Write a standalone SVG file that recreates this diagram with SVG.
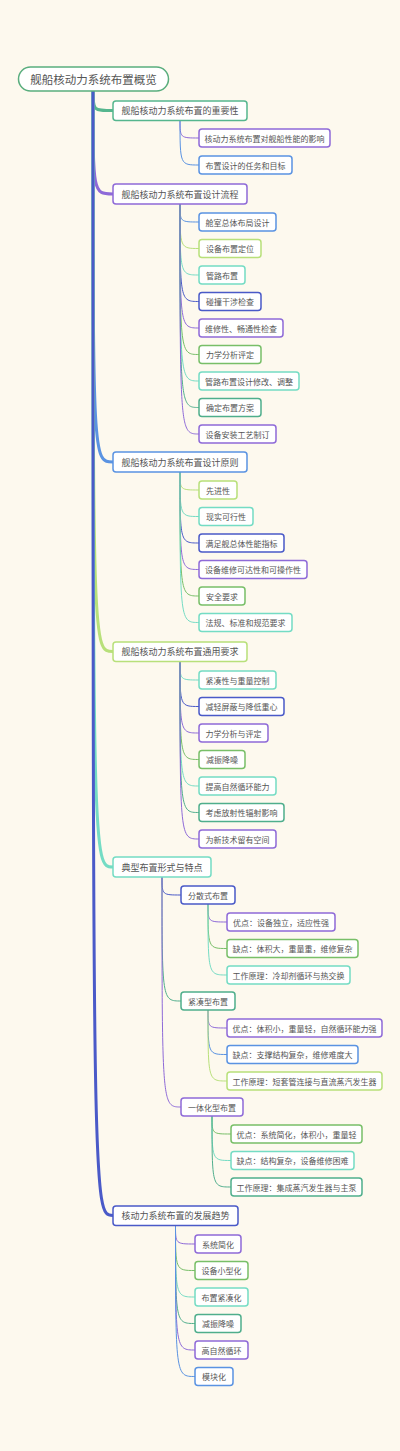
<svg xmlns="http://www.w3.org/2000/svg" width="400" height="1451" viewBox="0 0 400 1451">
<style>
text{font-family:"Noto Sans CJK SC","Noto Sans",sans-serif;fill:#555;dominant-baseline:central;text-anchor:middle}
.box{fill:#fff;stroke-width:1.5}
.t0{font-size:11.5px}
.t1{font-size:9px}
.t2{font-size:8px}
.main{fill:none;stroke-width:3}
.sub{fill:none;stroke-width:1}
.pu{stroke:#8e6ad8}.bl{stroke:#5a93e2}.yg{stroke:#b8e07a}.lt{stroke:#74dcc4}.in{stroke:#4a5ac8}.gr{stroke:#78bf68}.td{stroke:#4fae8c}.tg{stroke:#55b68e}.rt{stroke:#5aae7e}
</style>
<rect width="400" height="1451" fill="#fdf9ee"/>
<g id="connectors">
<path class="main tg" d="M93,91 C93,110.5 93,110.5 113,110.5"/>
<path class="main pu" d="M93,91 C93,194 93,194 113,194"/>
<path class="main bl" d="M93,91 C93,462 93,462 113,462"/>
<path class="main yg" d="M93,91 C93,651.5 93,651.5 113,651.5"/>
<path class="main lt" d="M93,91 C93,867 93,867 113,867"/>
<path class="main in" d="M93,91 C93,1215.5 93,1215.5 113,1215.5"/>
<path class="sub pu" d="M180,120 C180,138 180,138 199,138"/>
<path class="sub bl" d="M180,120 C180,165 180,165 199,165"/>
<path class="sub bl" d="M180,204 C180,222 180,222 199,222"/>
<path class="sub yg" d="M180,204 C180,248.5 180,248.5 199,248.5"/>
<path class="sub lt" d="M180,204 C180,275 180,275 199,275"/>
<path class="sub in" d="M180,204 C180,301.5 180,301.5 199,301.5"/>
<path class="sub pu" d="M180,204 C180,328 180,328 199,328"/>
<path class="sub gr" d="M180,204 C180,354.5 180,354.5 199,354.5"/>
<path class="sub lt" d="M180,204 C180,381 180,381 199,381"/>
<path class="sub td" d="M180,204 C180,407.5 180,407.5 199,407.5"/>
<path class="sub pu" d="M180,204 C180,434 180,434 199,434"/>
<path class="sub yg" d="M180,472 C180,490 180,490 199,490"/>
<path class="sub lt" d="M180,472 C180,516.5 180,516.5 199,516.5"/>
<path class="sub in" d="M180,472 C180,543 180,543 199,543"/>
<path class="sub pu" d="M180,472 C180,569.5 180,569.5 199,569.5"/>
<path class="sub gr" d="M180,472 C180,596 180,596 199,596"/>
<path class="sub lt" d="M180,472 C180,622.5 180,622.5 199,622.5"/>
<path class="sub lt" d="M180,661 C180,680 180,680 199,680"/>
<path class="sub in" d="M180,661 C180,706.5 180,706.5 199,706.5"/>
<path class="sub pu" d="M180,661 C180,733 180,733 199,733"/>
<path class="sub gr" d="M180,661 C180,759.5 180,759.5 199,759.5"/>
<path class="sub lt" d="M180,661 C180,786 180,786 199,786"/>
<path class="sub td" d="M180,661 C180,812.5 180,812.5 199,812.5"/>
<path class="sub pu" d="M180,661 C180,839 180,839 199,839"/>
<path class="sub in" d="M162,877 C162,895 162,895 181,895"/>
<path class="sub td" d="M162,877 C162,1001 162,1001 181,1001"/>
<path class="sub pu" d="M162,877 C162,1107 162,1107 181,1107"/>
<path class="sub pu" d="M208,904 C208,922 208,922 227,922"/>
<path class="sub gr" d="M208,904 C208,948.5 208,948.5 227,948.5"/>
<path class="sub lt" d="M208,904 C208,975 208,975 227,975"/>
<path class="sub pu" d="M208,1010 C208,1028 208,1028 227,1028"/>
<path class="sub bl" d="M208,1010 C208,1054.5 208,1054.5 227,1054.5"/>
<path class="sub yg" d="M208,1010 C208,1081 208,1081 227,1081"/>
<path class="sub gr" d="M212,1116 C212,1134 212,1134 231,1134"/>
<path class="sub lt" d="M212,1116 C212,1160.5 212,1160.5 231,1160.5"/>
<path class="sub td" d="M212,1116 C212,1187 212,1187 231,1187"/>
<path class="sub pu" d="M175.5,1225 C175.5,1244 175.5,1244 195,1244"/>
<path class="sub gr" d="M175.5,1225 C175.5,1270.5 175.5,1270.5 195,1270.5"/>
<path class="sub lt" d="M175.5,1225 C175.5,1297 175.5,1297 195,1297"/>
<path class="sub td" d="M175.5,1225 C175.5,1323.5 175.5,1323.5 195,1323.5"/>
<path class="sub pu" d="M175.5,1225 C175.5,1350 175.5,1350 195,1350"/>
<path class="sub bl" d="M175.5,1225 C175.5,1376.5 175.5,1376.5 195,1376.5"/>
</g>
<g id="root"><rect class="box rt" x="18.5" y="67" width="150" height="24" rx="12"/><text class="t0" x="93.5" y="79">舰船核动力系统布置概览</text></g>

<g id="n1"><rect class="box tg" x="113" y="101" width="134" height="19.5" rx="3"/><text class="t1" x="180" y="110.8">舰船核动力系统布置的重要性</text></g>
<g id="n1a"><rect class="box pu" x="199" y="129" width="131" height="18" rx="3"/><text class="t2" x="264.5" y="138">核动力系统布置对舰船性能的影响</text></g>
<g id="n1b"><rect class="box bl" x="199" y="156" width="93" height="18" rx="3"/><text class="t2" x="245.5" y="165">布置设计的任务和目标</text></g>

<g id="n2"><rect class="box pu" x="113" y="184" width="134" height="20" rx="3"/><text class="t1" x="180" y="194">舰船核动力系统布置设计流程</text></g>
<g id="n2a"><rect class="box bl" x="199" y="213" width="77" height="18" rx="3"/><text class="t2" x="237.5" y="222">舱室总体布局设计</text></g>
<g id="n2b"><rect class="box yg" x="199" y="239.5" width="62" height="18" rx="3"/><text class="t2" x="230" y="248.5">设备布置定位</text></g>
<g id="n2c"><rect class="box lt" x="199" y="266" width="46" height="18" rx="3"/><text class="t2" x="222" y="275">管路布置</text></g>
<g id="n2d"><rect class="box in" x="199" y="292.5" width="62" height="18" rx="3"/><text class="t2" x="230" y="301.5">碰撞干涉检查</text></g>
<g id="n2e"><rect class="box pu" x="199" y="319" width="84" height="18" rx="3"/><text class="t2" x="241" y="328">维修性、畅通性检查</text></g>
<g id="n2f"><rect class="box gr" x="199" y="345.5" width="62" height="18" rx="3"/><text class="t2" x="230" y="354.5">力学分析评定</text></g>
<g id="n2g"><rect class="box lt" x="199" y="372" width="100" height="18" rx="3"/><text class="t2" x="249" y="381">管路布置设计修改、调整</text></g>
<g id="n2h"><rect class="box td" x="199" y="398.5" width="62" height="18" rx="3"/><text class="t2" x="230" y="407.5">确定布置方案</text></g>
<g id="n2i"><rect class="box pu" x="199" y="425" width="77" height="18" rx="3"/><text class="t2" x="237.5" y="434">设备安装工艺制订</text></g>

<g id="n3"><rect class="box bl" x="113" y="452" width="134" height="20" rx="3"/><text class="t1" x="180" y="462">舰船核动力系统布置设计原则</text></g>
<g id="n3a"><rect class="box yg" x="199" y="481" width="38" height="18" rx="3"/><text class="t2" x="218" y="490">先进性</text></g>
<g id="n3b"><rect class="box lt" x="199" y="507.5" width="54" height="18" rx="3"/><text class="t2" x="226" y="516.5">现实可行性</text></g>
<g id="n3c"><rect class="box in" x="199" y="534" width="85" height="18" rx="3"/><text class="t2" x="241.5" y="543">满足舰总体性能指标</text></g>
<g id="n3d"><rect class="box pu" x="199" y="560.5" width="108" height="18" rx="3"/><text class="t2" x="253" y="569.5">设备维修可达性和可操作性</text></g>
<g id="n3e"><rect class="box gr" x="199" y="587" width="46" height="18" rx="3"/><text class="t2" x="222" y="596">安全要求</text></g>
<g id="n3f"><rect class="box lt" x="199" y="613.5" width="93" height="18" rx="3"/><text class="t2" x="245.5" y="622.5">法规、标准和规范要求</text></g>

<g id="n4"><rect class="box yg" x="113" y="642" width="134" height="19.5" rx="3"/><text class="t1" x="180" y="651.8">舰船核动力系统布置通用要求</text></g>
<g id="n4a"><rect class="box lt" x="199" y="671" width="77" height="18" rx="3"/><text class="t2" x="237.5" y="680">紧凑性与重量控制</text></g>
<g id="n4b"><rect class="box in" x="199" y="697.5" width="85" height="18" rx="3"/><text class="t2" x="241.5" y="706.5">减轻屏蔽与降低重心</text></g>
<g id="n4c"><rect class="box pu" x="199" y="724" width="69" height="18" rx="3"/><text class="t2" x="233.5" y="733">力学分析与评定</text></g>
<g id="n4d"><rect class="box gr" x="199" y="750.5" width="46" height="18" rx="3"/><text class="t2" x="222" y="759.5">减振降噪</text></g>
<g id="n4e"><rect class="box lt" x="199" y="777" width="77" height="18" rx="3"/><text class="t2" x="237.5" y="786">提高自然循环能力</text></g>
<g id="n4f"><rect class="box td" x="199" y="803.5" width="85" height="18" rx="3"/><text class="t2" x="241.5" y="812.5">考虑放射性辐射影响</text></g>
<g id="n4g"><rect class="box pu" x="199" y="830" width="77" height="18" rx="3"/><text class="t2" x="237.5" y="839">为新技术留有空间</text></g>

<g id="n5"><rect class="box lt" x="113" y="857" width="98" height="20" rx="3"/><text class="t1" x="162" y="867">典型布置形式与特点</text></g>
<g id="n5a"><rect class="box in" x="181" y="886" width="54" height="18" rx="3"/><text class="t2" x="208" y="895">分散式布置</text></g>
<g id="n5a1"><rect class="box pu" x="227" y="913" width="108" height="18" rx="3"/><text class="t2" x="281" y="922">优点：设备独立，适应性强</text></g>
<g id="n5a2"><rect class="box gr" x="227" y="939.5" width="131" height="18" rx="3"/><text class="t2" x="292.5" y="948.5">缺点：体积大，重量重，维修复杂</text></g>
<g id="n5a3"><rect class="box lt" x="227" y="966" width="123" height="18" rx="3"/><text class="t2" x="288.5" y="975">工作原理：冷却剂循环与热交换</text></g>
<g id="n5b"><rect class="box td" x="181" y="992" width="54" height="18" rx="3"/><text class="t2" x="208" y="1001">紧凑型布置</text></g>
<g id="n5b1"><rect class="box pu" x="227" y="1019" width="155" height="18" rx="3"/><text class="t2" x="304.5" y="1028">优点：体积小，重量轻，自然循环能力强</text></g>
<g id="n5b2"><rect class="box bl" x="227" y="1045.5" width="131" height="18" rx="3"/><text class="t2" x="292.5" y="1054.5">缺点：支撑结构复杂，维修难度大</text></g>
<g id="n5b3"><rect class="box yg" x="227" y="1072" width="155" height="18" rx="3"/><text class="t2" x="304.5" y="1081">工作原理：短套管连接与直流蒸汽发生器</text></g>
<g id="n5c"><rect class="box pu" x="181" y="1098" width="62" height="18" rx="3"/><text class="t2" x="212" y="1107">一体化型布置</text></g>
<g id="n5c1"><rect class="box gr" x="231" y="1125" width="131" height="18" rx="3"/><text class="t2" x="296.5" y="1134">优点：系统简化，体积小，重量轻</text></g>
<g id="n5c2"><rect class="box lt" x="231" y="1151.5" width="123" height="18" rx="3"/><text class="t2" x="292.5" y="1160.5">缺点：结构复杂，设备维修困难</text></g>
<g id="n5c3"><rect class="box td" x="231" y="1178" width="131" height="18" rx="3"/><text class="t2" x="296.5" y="1187">工作原理：集成蒸汽发生器与主泵</text></g>

<g id="n6"><rect class="box in" x="113" y="1206" width="125" height="19.5" rx="3"/><text class="t1" x="175.5" y="1215.8">核动力系统布置的发展趋势</text></g>
<g id="n6a"><rect class="box pu" x="195" y="1235" width="46" height="18" rx="3"/><text class="t2" x="218" y="1244">系统简化</text></g>
<g id="n6b"><rect class="box gr" x="195" y="1261.5" width="53" height="18" rx="3"/><text class="t2" x="221.5" y="1270.5">设备小型化</text></g>
<g id="n6c"><rect class="box lt" x="195" y="1288" width="53" height="18" rx="3"/><text class="t2" x="221.5" y="1297">布置紧凑化</text></g>
<g id="n6d"><rect class="box td" x="195" y="1314.5" width="46" height="18" rx="3"/><text class="t2" x="218" y="1323.5">减振降噪</text></g>
<g id="n6e"><rect class="box pu" x="195" y="1341" width="53" height="18" rx="3"/><text class="t2" x="221.5" y="1350">高自然循环</text></g>
<g id="n6f"><rect class="box bl" x="195" y="1367.5" width="38" height="18" rx="3"/><text class="t2" x="214" y="1376.5">模块化</text></g>
</svg>
